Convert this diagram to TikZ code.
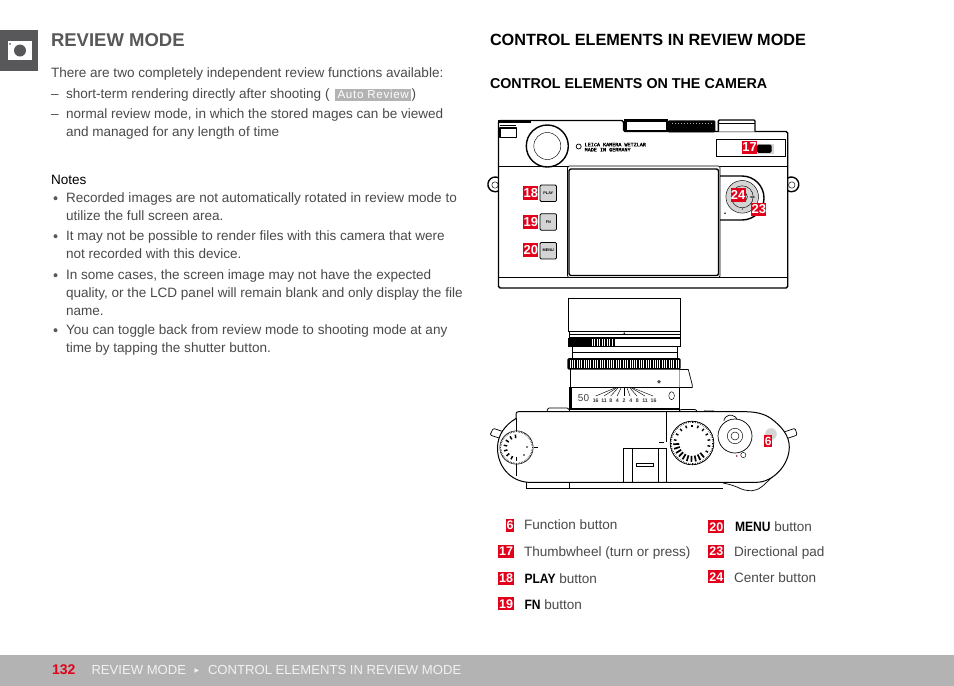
\documentclass[tikz,border=0pt]{standalone}
\usepackage{fontspec}
\setmainfont{Liberation Sans}
\newfontfamily\tinymono{Liberation Mono}[FakeBold=2]
\newfontfamily\arrowfont{DejaVu Sans}
\newfontfamily\keyfont{Liberation Sans Bold}[FakeStretch=0.89]
\definecolor{leicared}{HTML}{E2001A}
\definecolor{bodytxt}{HTML}{4A4A4C}
\definecolor{headgray}{HTML}{58585A}
\definecolor{footgray}{HTML}{B3B3B3}
\definecolor{footwhite}{HTML}{F2F2F2}
\definecolor{btngray}{HTML}{D4D4D4}
\newcommand\txt[4]{\node[txtnode] (#1) at (#2,#3) {#4};}
\newcommand\keyword[1]{\textcolor{black}{\fontsize{13.55}{15}\keyfont #1}}
\tikzset{
  txtnode/.style={anchor=base west,inner sep=0pt,outer sep=0pt,text=bodytxt,font=\fontsize{13.55}{15}\selectfont},
  foottxt/.style={txtnode,text=footwhite,font=\fontsize{13.1}{15}\selectfont},
  badge/.style={fill=leicared,text=white,inner sep=0pt,outer sep=0pt,font=\fontsize{13}{13}\selectfont\bfseries},
  smallbadge/.style={badge,minimum width=15.3,minimum height=13.4},
  legendbadge/.style={badge,minimum height=12.6,font=\fontsize{12.5}{12}\selectfont\bfseries},
  cam/.style={draw=black,line width=0.7pt},
  camthick/.style={draw=black,line width=1.4pt,line join=round},
  camthin/.style={draw=black,line width=0.45pt},
  btn/.style={draw=black,line width=0.8pt,fill=btngray,rounded corners=1.2pt},
  btnlabel/.style={inner sep=0pt,font=\fontsize{3.8}{4}\selectfont\bfseries,text=black}
}
\begin{document}
\begin{tikzpicture}[x=1pt,y=-1pt]
\useasboundingbox (0,0) rectangle (954,686);
\fill[white] (0,0) rectangle (954,686);
% side icon
\fill[headgray] (0,30) rectangle (38,71);
\fill[white] (8,40.5) rectangle (32,60);
\fill[headgray] (20,50.5) circle (6);
\fill[headgray] (10,43.8) circle (1);
% left column
\node[txtnode,text=headgray,font=\fontsize{18.5}{22}\selectfont\bfseries] (title) at (51,46.5) {REVIEW MODE};
\txt{l1}{51}{77}{There are two completely independent review functions available:}
\txt{d1}{51}{98}{–}
\txt{l2}{66}{98}{short-term rendering directly after shooting (}
\node[anchor=base west,inner sep=0pt,fill=footgray,text=white,minimum width=76,align=center,font=\fontsize{11.6}{13}\selectfont\addfontfeature{LetterSpace=6},text height=9.5pt,text depth=3pt] (auto) at (335,98) {Auto Review};
\txt{l2b}{411.5}{98}{)}
\txt{d2}{51}{118}{–}
\txt{l3}{66}{118}{normal review mode, in which the stored mages can be viewed}
\txt{l4}{66}{136}{and managed for any length of time}
\node[txtnode,text=black] (notes) at (51,184) {Notes};
\foreach \y in {202,240,279,334}{
  \fill[headgray] (55.5,\y-3.8) circle (2);
}
\txt{n1}{66}{202}{Recorded images are not automatically rotated in review mode to}
\txt{n2}{66}{220}{utilize the full screen area.}
\txt{n3}{66}{240}{It may not be possible to render files with this camera that were}
\txt{n4}{66}{258}{not recorded with this device.}
\txt{n5}{66}{279}{In some cases, the screen image may not have the expected}
\txt{n6}{66}{297}{quality, or the LCD panel will remain blank and only display the file}
\txt{n7}{66}{315}{name.}
\txt{n8}{66}{334}{You can toggle back from review mode to shooting mode at any}
\txt{n9}{66}{352}{time by tapping the shutter button.}
% right headings
\node[txtnode,text=black,font=\fontsize{16.25}{18}\selectfont\bfseries] (h1) at (490,45) {CONTROL ELEMENTS IN REVIEW MODE};
\node[txtnode,text=black,font=\fontsize{14.3}{16}\selectfont\bfseries] (h2) at (490,88) {CONTROL ELEMENTS ON THE CAMERA};
%%% camera back
% lugs
\draw[camthick,fill=white] (499,178) arc (-60:-300:7.4);
\draw[camthin] (495,185) circle (3.2);
\draw[camthick,fill=white] (787.7,178) arc (-120:120:7.4);
\draw[camthin] (791.8,185) circle (3.2);
% body
\draw[camthick,fill=white,rounded corners=1.6pt] (498.5,120.5) -- (623.5,120.5) -- (623.5,131.5) -- (787.7,131.5) -- (787.7,288) -- (498.5,288) -- cycle;
\fill[black] (498,119.8) rectangle (531,123);
\draw[camthick] (500,128) rectangle (516.5,137.5);
\draw[camthin] (500,125) -- (516,125);
% hot shoe, plates
\draw[camthick,fill=white] (624.5,131.5) -- (624.5,120) -- (667,120) -- (667,131.5);
\fill[black] (624,119) rectangle (667.5,122);
\fill[black] (624,129.5) rectangle (667.5,132.3);
\fill[black] (624,119) rectangle (627,132);
\fill[white] (638,126.5) rectangle (654,129.5);
\fill[black,rounded corners=1.2pt] (667.8,120.3) rectangle (715.3,132.3);
\foreach \x in {672,675,...,712}{\fill[white!70!black] (\x,122.5) rectangle ++(1,0.5);}
\draw[camthick,fill=white,rounded corners=1pt] (718.3,131.5) -- (718.3,120) -- (755,120) -- (755,131.5);
\draw[camthin] (719,123) -- (755,123);
\draw[cam] (499,166) -- (787,166);
\draw[cam] (499,277.5) -- (787,277.5);
% wheel
\draw[camthick,fill=white] (547.3,146) circle (21);
\draw[camthin] (547.3,146) circle (13.5);
\draw[cam,fill=white] (578.7,146.5) circle (2.5);
\node[anchor=base west,inner sep=0pt,font=\fontsize{5.1}{5}\tinymono] (brand1) at (584.5,146.3) {LEICA KAMERA WETZLAR};
\node[anchor=base west,inner sep=0pt,font=\fontsize{5.1}{5}\tinymono] (brand2) at (584.5,151.4) {MADE IN GERMANY};
% screen
\draw[cam,fill=white,rounded corners=1.5pt] (567.5,166) rectangle (720,277.5);
\draw[camthick,rounded corners=2pt] (569,169) rectangle (718.5,275.5);
% thumbwheel panel
\draw[cam,line width=0.9pt] (716,139.3) -- (785,139.3) -- (785,156.3) -- (716,156.3) -- cycle;
\fill[btngray] (757,143.7) rectangle (774,153.7);
\fill[black,rounded corners=1.5pt] (757,144.5) rectangle (771.5,152.8);
% directional pad
\draw[camthick] (720,176) -- (742,176) arc (-90:90:22 and 22) -- (720,220);
\fill[btngray] (742.2,196.8) circle (16.3);
\draw[camthin] (742.2,196.8) circle (16.3);
\draw[camthin] (742.2,196.8) circle (11);
\draw[camthin] (742.2,196.8) circle (5.2);
\fill[black] (725,213.3) circle (0.9);
\node[btnlabel,font=\fontsize{2.8}{3}\selectfont\bfseries] (isoL) at (752.5,197.5) {ISO};
\fill[black] (742.5,209) circle (0.6);
% buttons
\node[btn,minimum size=16.5,inner sep=0pt,btnlabel,draw=black,fill=btngray] (play) at (548.3,193.3) {PLAY};
\node[btn,minimum size=16.5,inner sep=0pt,btnlabel,draw=black,fill=btngray] (fn) at (548.3,222) {FN};
\node[btn,minimum size=16.5,inner sep=0pt,btnlabel,draw=black,fill=btngray] (menu) at (548.3,250.7) {MENU};
\node[smallbadge] (b18) at (530.8,193) {18};
\node[smallbadge] (b19) at (530.8,221.8) {19};
\node[smallbadge] (b20) at (530.8,250) {20};
\node[smallbadge] (b17) at (749.5,147.3) {17};
\node[smallbadge] (b24) at (738.2,195) {24};
\node[smallbadge] (b23) at (758.8,209.2) {23};
%%% lens
\draw[cam,fill=white] (568.5,298.2) rectangle (680.7,331.7);
\draw[cam] (569,331.7) -- (569,337.5) -- (680,337.5) -- (680,331.7);
\draw[camthin] (569,334) -- (680,334);
\fill[black] (624.3,333.2) circle (0.9);
% first knurl
\fill[black] (568.3,338.3) rectangle (615,346.9);
\draw[cam] (615,338.5) -- (680,338.5) -- (680,346.7) -- (615,346.7);
\foreach \x in {592,594.5,...,614}{\draw[white,line width=0.55pt] (\x,339.3) -- (\x,346);}
\draw[cam] (572.7,346.7) -- (572.7,358.3) (677.3,346.7) -- (677.3,358.3);
\draw[camthin] (572.7,352) -- (677.3,352);
% second knurl
\fill[black,rounded corners=1.5pt] (567.3,358) rectangle (680.7,369.6);
\foreach \x in {570,572.3,...,679}{\draw[white,line width=0.55pt] (\x,360) -- (\x,368.3);}
% barrel
\draw[cam] (570,369.3) -- (570,388) (679.3,369.3) -- (679.3,388);
\draw[cam,fill=white] (679.3,369.5) -- (688.3,369.5) -- (692.3,385) -- (692.3,387.5) -- (679.3,387.5);
\fill[black!70] (659,381.7) circle (1.9);
% scale
\fill[black] (568.8,387) rectangle (572,410);
\draw[cam] (569,387.5) -- (679.3,387.5);
\draw[cam] (679.3,387.5) -- (679.3,408);
\draw[black,line width=1.6pt] (569,408.7) -- (679.5,408.7);
\node[anchor=center,inner sep=0pt,font=\fontsize{10}{11}\selectfont,text=black!75] (fifty) at (583.5,398.3) {50};
\foreach \px/\hx in {595.7/615,604/616.5,610.7/618,617/621,624/624,630/627,637/630,645/631.5,653/633}{
  \draw[camthin] (\hx,388) -- (\px,396);
}
\foreach \lab/\px in {16/595.7,11/604,8/610.7,4/617.3,2/624,4/630.7,8/637.3,11/645,16/653.5}{
  \node[inner sep=0pt,font=\fontsize{5.2}{6}\selectfont\bfseries,text=black!80] (s\px) at (\px,400.5) {\lab};
}
\draw[camthin] (671.6,395.7) ellipse (2.8 and 4);
%%% top view
\draw[cam,fill=white,rounded corners=1pt] (547,411.5) -- (548,408) -- (568,408) -- (570,411.5);
\draw[cam,fill=white,rounded corners=1pt] (679,411.5) -- (680,409.5) -- (696,409.5) -- (697,411.5);
\draw[camthin] (703,411.5) -- (705,410.5) -- (713,410.5) -- (714,411.5);
% strap pins
\draw[cam,fill=white,rounded corners=1.2pt] (505,432.3) -- (493.3,428.3) -- (490,435) -- (500,438.3);
\draw[cam,fill=white,rounded corners=1.2pt] (785,431.7) -- (795,428.3) -- (797.3,435) -- (787.7,438.3);
% bottom plate
\draw[cam,fill=white] (526.7,481.7) -- (526.7,488.6) -- (569,488.6);
\draw[cam,line width=1pt] (569,488.6) -- (723,488.6);
\draw[camthin] (569,482) -- (569,488.6);
\draw[cam,fill=white] (723,483) .. controls (728,484) and (732,485) .. (737,487) .. controls (743,490) and (746,490.7) .. (752,490.7) .. controls (759,490.7) and (765,484) .. (772,477);
% body outline
\draw[cam,line width=1pt,fill=white] (518.5,411.7) -- (745,411.7)
  .. controls (755,411.7) and (764,413.5) .. (771,418.5)
  .. controls (781,426) and (789.3,435) .. (789.3,447)
  .. controls (789.3,465) and (773,482) .. (757,482.3)
  -- (528,482.3)
  .. controls (510,481) and (497.5,466) .. (497.5,448)
  .. controls (497.5,435) and (505,425) .. (516,418.5)
  -- (516,414) .. controls (516,412.5) and (517,411.7) .. (518.5,411.7) -- cycle;
\draw[camthin] (516,418) -- (516,476);
\draw[camthin] (666,412) -- (666,442);
% hot shoe
\draw[cam] (623.3,482) -- (623.3,448) -- (666,448) -- (666,482);
\draw[camthin] (632,448) -- (632,482) (658.5,448) -- (658.5,482);
\draw[camthin] (636.7,463.4) rectangle (653.5,465.8);
\draw[camthin] (534,446.8) -- (538,446.8) (659,442.3) -- (664,442.3);
% left dial
\draw[camthin,fill=white] (516.5,447.5) circle (16.7);
\foreach \a in {0,6,...,354}{\draw[black!80,line width=0.6pt] (\a:16.7)++(516.5,447.5) -- ++(\a:-1.6);}
\foreach \a in {-90,-65,...,100}{\draw[black,line width=1.5pt] (\a+180:13)++(516.5,447.5) -- ++(\a+180:-3.6);}
\fill[black] (527,447) circle (0.8) (524,455) circle (0.8);
% shutter dial
\draw[cam,fill=white] (692,443) circle (21.8);
\foreach \a in {0,5,...,355}{\draw[black,line width=0.5pt] (\a:21.8)++(692,443) -- ++(\a:-1.6);}
\foreach \a in {-170,-150,...,-10,10,30}{\draw[black,line width=1.4pt] (\a:18.5)++(692,443) -- ++(\a:-2.8);}
\foreach \a in {50,64,...,180}{\draw[black,line width=1.7pt] (\a:18.8)++(692,443) -- ++(\a:-6);}
% third dial
\draw[cam,fill=white,rounded corners=1.5pt] (724,421) -- (724.3,418) -- (730,414.5) -- (736.7,417.5) -- (737,421);
\draw[camthin,fill=white] (743.3,455) circle (2.6);
\draw[cam,fill=white] (735,436) circle (17);
\draw[camthin] (735,436) circle (7.7);
\draw[camthin] (735,436) circle (4);
\fill[leicared!70!black] (736.7,456) circle (0.9);
% function button
\fill[btngray] (771,434) circle (5.8);
\node[badge,minimum width=8.3,minimum height=12.4,font=\fontsize{12}{12}\selectfont\bfseries] (b6) at (768.2,441.2) {6};
%%% legend
\node[legendbadge,minimum width=8] (k6) at (510,525.5) {6};
\node[legendbadge,minimum width=16] (k17) at (506,551.3) {17};
\node[legendbadge,minimum width=16] (k18) at (506,578.3) {18};
\node[legendbadge,minimum width=16] (k19) at (506,603.7) {19};
\node[legendbadge,minimum width=16] (k20) at (716.3,526.7) {20};
\node[legendbadge,minimum width=16] (k23) at (716.3,551.3) {23};
\node[legendbadge,minimum width=16] (k24) at (716.3,576.7) {24};
\txt{t6}{524}{529}{Function button}
\txt{t17}{524}{556}{Thumbwheel (turn or press)}
\node[txtnode] (t18) at (524.5,583) {\keyword{PLAY}{} button};
\node[txtnode] (t19) at (524.5,609) {\keyword{FN}{} button};
\node[txtnode] (t20) at (735,531) {\keyword{MENU}{} button};
\txt{t23}{734}{556}{Directional pad}
\txt{t24}{734}{582}{Center button}
%%% footer
\fill[footgray] (0,655) rectangle (954,686);
\node[txtnode,text=leicared,font=\fontsize{14}{15}\selectfont\bfseries] (page) at (52,674) {132};
\node[foottxt] (f1) at (91.5,674) {REVIEW MODE};
\node[txtnode,text=footwhite,font=\fontsize{6}{7}\arrowfont] (sep) at (194.5,672) {▶};
\node[foottxt] (f2) at (208,674) {CONTROL ELEMENTS IN REVIEW MODE};
\end{tikzpicture}
\end{document}
